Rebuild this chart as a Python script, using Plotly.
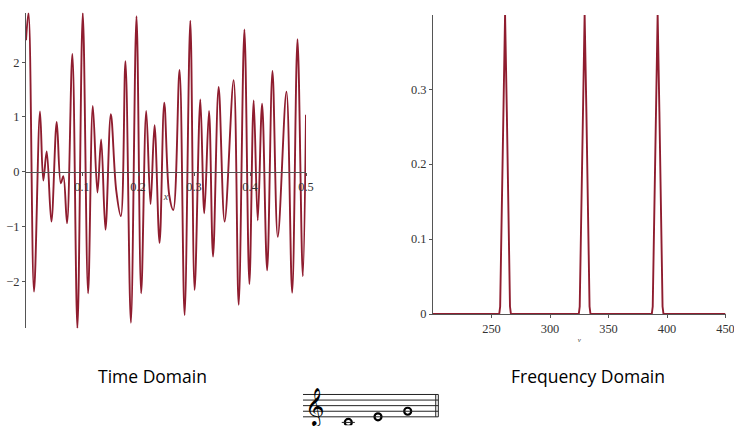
import plotly.graph_objects as go

# ---------------- data ----------------
# Time domain: successive extrema of the waveform (seconds, amplitude)
time_s = [0.0, 0.0045, 0.0143, 0.0250, 0.0309, 0.0370, 0.0453, 0.0549, 0.0621, 0.0667,
          0.0733, 0.0828, 0.0918, 0.1014, 0.1109, 0.1193, 0.1276, 0.1342, 0.1419, 0.1515,
          0.1610, 0.1694, 0.1776, 0.1873, 0.1973, 0.2057, 0.2147, 0.2224, 0.2295, 0.2385,
          0.2469, 0.2558, 0.2630, 0.2742, 0.2832, 0.2934, 0.3011, 0.3113, 0.3184, 0.3268,
          0.3340, 0.3440, 0.3547, 0.3708, 0.3798, 0.3900, 0.3989, 0.4066, 0.4138, 0.4216,
          0.4306, 0.4401, 0.4496, 0.4651, 0.4753, 0.4848, 0.4943, 0.5]
amplitude = [2.40, 2.90, -2.19, 1.10, -0.16, 0.37, -0.91, 0.91, -0.21, -0.08,
             -0.94, 2.15, -2.86, 2.90, -2.22, 1.20, -0.38, 0.59, -1.06, 1.05,
             -0.33, -0.81, 2.02, -2.76, 2.84, -2.22, 1.11, -0.59, 0.85, -1.30,
             1.26, -0.43, -0.70, 1.86, -2.62, 2.76, -2.16, 1.32, -0.76, 1.11,
             -1.55, 1.55, -0.91, 1.67, -2.43, 2.60, -2.05, 1.30, -0.89, 1.24,
             -1.80, 1.84, -1.19, 1.46, -2.21, 2.42, -1.91, 1.04]

# Frequency domain: spectrum samples (Hz, magnitude) - peaks at C4, E4, G4
spectrum_freq = [200, 256.6, 257.4, 258.6, 260.1, 261.6, 263.1, 264.6, 265.8, 266.6,
                 324.6, 325.4, 326.6, 328.1, 329.6, 331.1, 332.6, 333.8, 334.6,
                 387.0, 387.8, 389.0, 390.5, 392.0, 393.5, 395.0, 396.2, 397.0, 450]
spectrum_mag = [0.0, 0.0, 0.01, 0.13, 0.27, 0.40, 0.27, 0.13, 0.01, 0.0,
                0.0, 0.01, 0.13, 0.27, 0.40, 0.27, 0.13, 0.01, 0.0,
                0.0, 0.01, 0.13, 0.27, 0.40, 0.27, 0.13, 0.01, 0.0, 0.0]

time_ticks = [0.1, 0.2, 0.3, 0.4, 0.5]
amp_ticks = [-2, -1, 0, 1, 2]
freq_ticks = [250, 300, 350, 400, 450]
mag_ticks = [0, 0.1, 0.2, 0.3]

# Notes of the chord on the staff (note order, staff step above bottom line)
note_names = ["C4", "E4", "G4"]
note_order = [1, 2, 3]
note_steps = [-2, 0, 2]

panel_titles = ["Time Domain", "Frequency Domain"]

# ---------------- figure ----------------
W, H = 734, 426
LINE = "#8f1d2f"
AX = "#555555"
TICKFONT = dict(family="Liberation Serif", size=12.4, color="#333333")

fig = go.Figure()

fig.add_trace(go.Scatter(x=time_s, y=amplitude, mode="lines",
                         line=dict(color=LINE, width=1.9, shape="spline", smoothing=1.0),
                         xaxis="x", yaxis="y", showlegend=False, hoverinfo="skip"))

fig.add_trace(go.Scatter(x=spectrum_freq, y=spectrum_mag, mode="lines",
                         line=dict(color=LINE, width=1.9),
                         xaxis="x2", yaxis="y2", showlegend=False, hoverinfo="skip"))

fig.add_trace(go.Scatter(x=note_order, y=note_steps, mode="markers", text=note_names,
                         marker=dict(symbol="circle-open", size=7, color="black",
                                     line=dict(width=2.2, color="black")),
                         xaxis="x3", yaxis="y3", showlegend=False, hoverinfo="skip"))

def px(x):
    return x / W

def py(y):
    return 1 - y / H

common = dict(showgrid=False, zeroline=False, showline=True, linecolor=AX, linewidth=1,
              ticks="outside", ticklen=3, tickcolor=AX, tickfont=TICKFONT, automargin=False,
              ticklabeloverflow="allow")

fig.update_layout(
    width=W, height=H,
    margin=dict(l=0, r=0, t=0, b=0, pad=0, autoexpand=False),
    paper_bgcolor="white", plot_bgcolor="rgba(0,0,0,0)",
    xaxis=dict(domain=[px(26), px(306)], range=[0, 0.5], anchor="free", position=py(171.7),
               tickvals=time_ticks, ticktext=[str(v) for v in time_ticks],
               title=dict(text="<i>x</i>", font=dict(family="Liberation Serif", size=10, color="#444"),
                          standoff=0), **common),
    yaxis=dict(domain=[py(328.3), py(12.7)], range=[-2.86, 2.904], anchor="x",
               tickvals=amp_ticks, **common),
    xaxis2=dict(domain=[px(433), px(725.5)], range=[200, 450], anchor="y2",
                tickvals=freq_ticks,
                title=dict(text="<i>v</i>", font=dict(family="Liberation Serif", size=7, color="#444"),
                           standoff=2), **common),
    yaxis2=dict(domain=[py(314), py(15)], range=[0, 0.399], anchor="x2",
                tickvals=mag_ticks, **common),
    xaxis3=dict(domain=[px(303), px(439)], range=[-0.525, 4.054], anchor="y3", visible=False,
                automargin=False),
    yaxis3=dict(domain=[py(425.2), py(388.9)], range=[-3, 10], anchor="x3", visible=False,
                automargin=False),
)

# staff lines
for step in [0, 2, 4, 6, 8]:
    fig.add_shape(type="line", xref="x3 domain", yref="y3", x0=0, x1=0.995, y0=step, y1=step,
                  line=dict(color="#222", width=1))
# final double bar
for xd in [0.976, 0.995]:
    fig.add_shape(type="line", xref="x3 domain", yref="y3", x0=xd, x1=xd, y0=0, y1=8,
                  line=dict(color="#222", width=1))
# ledger line for C4
fig.add_shape(type="line", xref="x3", yref="y3", x0=note_order[0] - 0.22, x1=note_order[0] + 0.22,
              y0=note_steps[0], y1=note_steps[0], line=dict(color="#222", width=1))

# treble clef
fig.add_annotation(xref="x3 domain", yref="y3", x=0.09, y=3.6, text="\U0001D11E", showarrow=False,
                   xanchor="center", yanchor="middle",
                   font=dict(family="DejaVu Sans", size=33, color="black"))

# panel captions
for title, cx in zip(panel_titles, [152, 588]):
    fig.add_annotation(xref="paper", yref="paper", x=px(cx), y=py(376), text=title,
                       showarrow=False, xanchor="center", yanchor="middle",
                       font=dict(family="Open Sans", size=17.5, color="black"))

fig.write_html("out.html", config={"displayModeBar": False},
               post_script="document.body.style.margin='0px';")
